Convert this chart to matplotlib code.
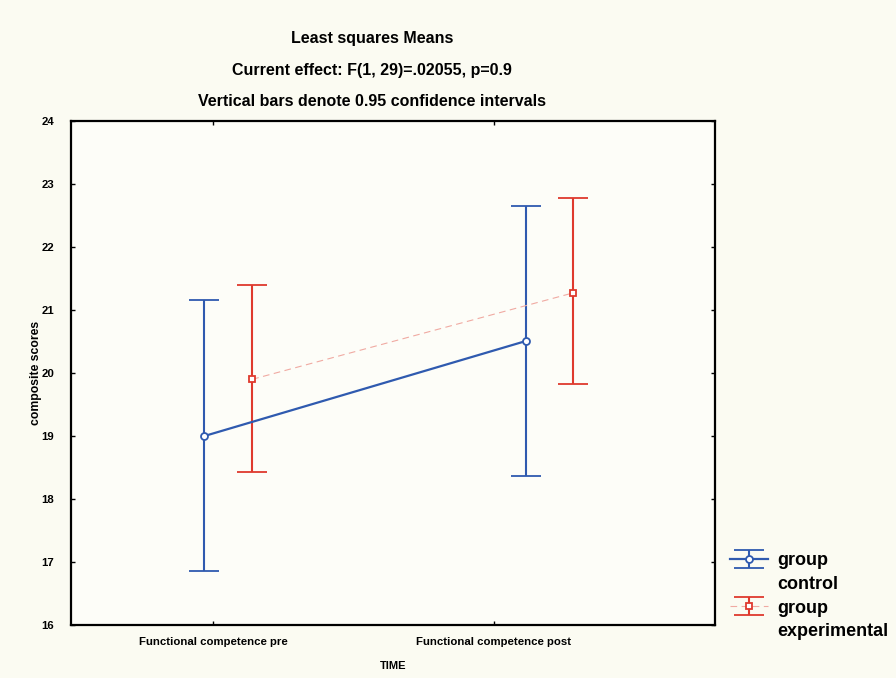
import matplotlib.pyplot as plt
import numpy as np
from matplotlib.patches import Rectangle

plt.rcParams["font.family"] = ["Liberation Sans", "DejaVu Sans"]
plt.rcParams["font.weight"] = "bold"

categories = ["Functional competence pre", "Functional competence post"]
ctrl_mean = [19.00, 20.51]
ctrl_low = [16.86, 18.37]
ctrl_high = [21.16, 22.65]
exp_mean = [19.90, 21.27]
exp_low = [18.43, 19.83]
exp_high = [21.40, 22.78]

blue = "#2f5aaf"
red = "#df3a2e"
pink = "#f0aaa2"

fig = plt.figure(figsize=(8.96, 6.78), dpi=100, facecolor="#fbfbf2")
ax = fig.add_axes([0.0792, 0.0782, 0.7188, 0.7433], facecolor="#fdfdf8")

xpos = np.arange(len(categories))
ctrl_x = xpos + np.array([-0.03, 0.115])
exp_x = xpos + np.array([0.14, 0.28])

cm, ce = np.array(ctrl_mean), np.array(exp_mean)
ctrl_err = [cm - np.array(ctrl_low), np.array(ctrl_high) - cm]
exp_err = [ce - np.array(exp_low), np.array(exp_high) - ce]

h_ctrl = ax.errorbar(ctrl_x, cm, yerr=ctrl_err, color=blue, lw=1.6, elinewidth=1.5,
                     capsize=11, capthick=1.5, marker="o", ms=5, mfc="white", mec=blue,
                     mew=1.3, zorder=3)
h_exp = ax.errorbar(exp_x, ce, yerr=exp_err, color=pink, ecolor=red, lw=0.8,
                    ls=(0, (6, 4)), elinewidth=1.5, capsize=11, capthick=1.5,
                    marker="s", ms=5, mfc="white", mec=red, mew=1.3, zorder=3)

ax.set_xlim(-0.505, 1.786)
ax.set_ylim(16, 24)
ax.set_xticks(xpos)
ax.set_xticklabels(categories, fontsize=8.2, fontweight="bold")
ax.set_yticks(np.arange(16, 25, 1))
ax.set_yticklabels([str(v) for v in range(16, 25)], fontsize=8.2, fontweight="bold")
ax.tick_params(axis="y", direction="in", length=3, width=1, right=True, pad=12)
ax.tick_params(axis="x", direction="in", length=3, width=1, top=True, pad=9)
for s in ax.spines.values():
    s.set_linewidth(1.6)

ax.set_xlabel("TIME", fontsize=8, fontweight="bold", labelpad=10)
ax.set_ylabel("composite scores", fontsize=8.8, fontweight="bold", va="center")
ax.yaxis.set_label_coords(-0.055, 0.5)

fig.text(0.415, 0.943, "Least squares Means", ha="center", va="center", fontsize=11.5)
fig.text(0.415, 0.896, "Current effect: F(1, 29)=.02055, p=0.9", ha="center", va="center", fontsize=11.5)
fig.text(0.415, 0.851, "Vertical bars denote 0.95 confidence intervals", ha="center", va="center", fontsize=11.5)

blank = Rectangle((0, 0), 1, 1, visible=False)
leg = ax.legend([h_ctrl, blank, h_exp, blank], ["group", "control", "group", "experimental"],
                loc="upper left", bbox_to_anchor=(0.815, 0.186), bbox_transform=fig.transFigure,
                frameon=False, fontsize=13, handlelength=2.1, handletextpad=0.5,
                labelspacing=0.38, borderaxespad=0, borderpad=0)
for t in leg.get_texts():
    t.set_fontweight("bold")

fig.savefig("out.png", dpi=100, facecolor=fig.get_facecolor())
